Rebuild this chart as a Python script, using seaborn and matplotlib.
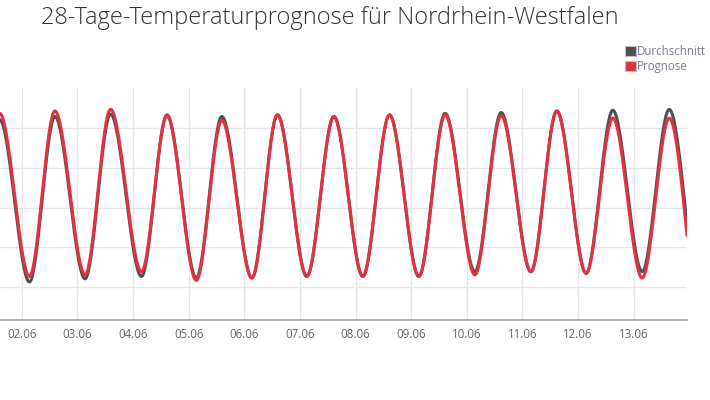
import numpy as np
import pandas as pd
import matplotlib
matplotlib.use("Agg")
import matplotlib.pyplot as plt
import matplotlib.dates as mdates
from matplotlib.patches import Patch
from matplotlib import font_manager as fm
import seaborn as sns

# ---------------- data ----------------
title = "28-Tage-Temperaturprognose für Nordrhein-Westfalen"
series_names = ["Durchschnitt", "Prognose"]

times = [
    "2024-06-01 14:30", "2024-06-02 03:20", "2024-06-02 14:20", "2024-06-03 03:20",
    "2024-06-03 14:20", "2024-06-04 03:40", "2024-06-04 14:40", "2024-06-05 03:20",
    "2024-06-05 14:20", "2024-06-06 03:20", "2024-06-06 14:20", "2024-06-07 03:00",
    "2024-06-07 14:40", "2024-06-08 03:10", "2024-06-08 14:40", "2024-06-09 03:20",
    "2024-06-09 14:40", "2024-06-10 03:30", "2024-06-10 14:50", "2024-06-11 03:40",
    "2024-06-11 14:50", "2024-06-12 03:30", "2024-06-12 15:00", "2024-06-13 03:40",
    "2024-06-13 15:20", "2024-06-13 23:00",
]
durchschnitt = [
    26.1, 5.6, 26.5, 6.0, 26.8, 6.3, 26.7, 6.1, 26.5, 6.1, 26.7, 6.3, 26.5,
    6.3, 26.7, 6.3, 26.9, 6.9, 27.0, 6.9, 27.2, 6.7, 27.3, 6.9, 27.4, 12.8,
]
prognose = [
    26.9, 6.3, 27.2, 6.5, 27.4, 6.9, 26.6, 5.8, 26.0, 6.1, 26.7, 6.3, 26.5,
    6.3, 26.7, 6.3, 26.7, 6.5, 26.6, 6.9, 27.2, 6.7, 26.3, 6.1, 26.3, 11.5,
]
tick_labels = ["02.06", "03.06", "04.06", "05.06", "06.06", "07.06",
               "08.06", "09.06", "10.06", "11.06", "12.06", "13.06"]
x_start = "2024-06-01 14:38"
x_end = "2024-06-13 23:00"

colors = {"Durchschnitt": "#505050", "Prognose": "#e2323f"}


def smooth(t, v, n=40):
    """Spline-like rendering of the series (flat tangents at the extrema)."""
    x = mdates.date2num(pd.to_datetime(t))
    y = np.asarray(v, dtype=float)
    tang = np.zeros_like(y)
    tang[-1] = 1.5 * (y[-1] - y[-2]) / (x[-1] - x[-2])
    xs, ys = [], []
    for i in range(len(x) - 1):
        h = x[i + 1] - x[i]
        s = np.linspace(0, 1, n, endpoint=(i == len(x) - 2))
        h00 = 2 * s**3 - 3 * s**2 + 1
        h10 = s**3 - 2 * s**2 + s
        h01 = -2 * s**3 + 3 * s**2
        h11 = s**3 - s**2
        ys.append(h00 * y[i] + h10 * h * tang[i] + h01 * y[i + 1] + h11 * h * tang[i + 1])
        xs.append(x[i] + s * h)
    return np.concatenate(xs), np.concatenate(ys)


def light_font():
    """Find a light-weight, normal-width face (Open Sans Light preferred)."""
    def weight(f):
        w = f.weight
        if isinstance(w, str):
            return {"ultralight": 200, "light": 300, "normal": 400,
                    "regular": 400, "book": 400}.get(w.lower(), 400)
        return int(w)
    for fam in ["Open Sans", "Lato", "Roboto", "Noto Sans"]:
        for f in fm.fontManager.ttflist:
            if (f.name == fam or f.name == fam + " Light") \
                    and "cond" not in f.fname.lower() \
                    and str(f.stretch) in ("normal", "500") \
                    and 250 <= weight(f) <= 320 and f.style == "normal":
                return fm.FontProperties(fname=f.fname)
    return fm.FontProperties(family="Open Sans")


frames = []
for name, vals in zip(series_names, [durchschnitt, prognose]):
    sx, sy = smooth(times, vals)
    frames.append(pd.DataFrame({"t": sx, "temp": sy, "Serie": name}))
df = pd.concat(frames, ignore_index=True)

# ---------------- style ----------------
sns.set_theme(style="whitegrid")
plt.rcParams["font.family"] = ["Open Sans", "DejaVu Sans"]

fig = plt.figure(figsize=(7.1, 4.0), dpi=100)
ax = fig.add_axes([0.0, 80 / 400, 687 / 710, 232 / 400])

sns.lineplot(data=df, x="t", y="temp", hue="Serie", hue_order=series_names,
             palette=colors, sort=False, estimator=None, linewidth=2.2,
             legend=False, ax=ax)

tick_pos = mdates.date2num(pd.to_datetime([l + ".2024" for l in tick_labels],
                                          format="%d.%m.%Y"))
ax.set_xticks(tick_pos)
ax.set_xticklabels(tick_labels, color="#666666", fontsize=8.3)
ax.set_xlim(mdates.date2num(pd.Timestamp(x_start)), mdates.date2num(pd.Timestamp(x_end)))
ax.set_ylim(0.8, 30.1)
ax.set_yticks([5, 10, 15, 20, 25])
ax.set_yticklabels([])
ax.set_xlabel("")
ax.set_ylabel("")
ax.tick_params(axis="both", length=0)
ax.tick_params(axis="x", pad=6)
ax.grid(True, color="#e6e6e6", linewidth=1.0)
ax.set_facecolor("white")
for side in ["top", "left", "right"]:
    ax.spines[side].set_visible(False)
ax.spines["bottom"].set_color("#a0a0a0")
ax.spines["bottom"].set_linewidth(1.2)

tp = light_font()
tp.set_size(17)
fig.text(0.465, 0.955, title, ha="center", va="center", fontproperties=tp,
         color="#333333")

handles = [Patch(facecolor=colors[n], edgecolor="#c0c0c0", linewidth=0.8, label=n)
           for n in series_names]
leg = fig.legend(handles=handles, loc="upper right", bbox_to_anchor=(1.003, 0.902),
                 frameon=False, fontsize=8.3, handlelength=0.95, handleheight=0.95,
                 handletextpad=0.1, labelspacing=0.2, borderpad=0.0,
                 labelcolor="#7a7a92")

fig.savefig("out.png", dpi=100, facecolor="white")
